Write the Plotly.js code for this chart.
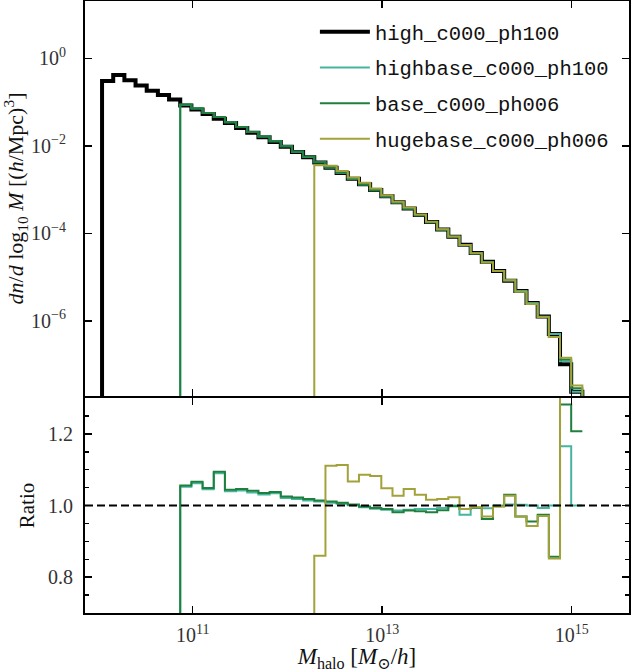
<!DOCTYPE html>
<html>
<head>
<meta charset="utf-8">
<script src="https://cdn.plot.ly/plotly-3.0.1.min.js"></script>
<style>html,body{margin:0;padding:0;background:#fff;}#chart{width:631px;height:672px;}</style>
</head>
<body>
<div id="chart"></div>
<script>
// Halo mass bin edges, M_halo [M_sun/h] (44 edges -> 43 bins)
const massBinEdges = [
  1.104e10, 1.448e10, 1.900e10, 2.492e10, 3.269e10, 4.289e10, 5.626e10, 7.381e10, 9.687e10,
  1.271e11, 1.667e11, 2.187e11, 2.869e11, 3.764e11, 4.938e11, 6.478e11, 8.499e11,
  1.115e12, 1.463e12, 1.919e12, 2.518e12, 3.303e12, 4.333e12, 5.684e12, 7.457e12, 9.784e12,
  1.284e13, 1.684e13, 2.209e13, 2.898e13, 3.802e13, 4.988e13, 6.544e13, 8.585e13,
  1.126e14, 1.477e14, 1.938e14, 2.543e14, 3.336e14, 4.376e14, 5.741e14, 7.532e14, 9.881e14,
  1.296e15
];

const seriesNames = ["high_c000_ph100", "highbase_c000_ph100", "base_c000_ph006", "hugebase_c000_ph006"];

// dn/dlog10 M [(h/Mpc)^3] per bin (0 = no haloes in that bin)
const high_c000_ph100 = [
  0.302, 0.417, 0.316, 0.240, 0.182, 0.145, 0.115,
  0.0832, 0.0676, 0.0537, 0.0417, 0.0331, 0.0257, 0.0200, 0.0158, 0.0123,
  0.00955, 0.00724, 0.00550, 0.00417, 0.00316, 0.00240, 0.00178, 0.00132,
  9.77e-4, 7.08e-4, 5.13e-4, 3.72e-4, 2.63e-4, 1.82e-4, 1.23e-4,
  8.32e-5, 5.50e-5, 3.55e-5, 2.24e-5, 1.38e-5,
  8.32e-6, 4.79e-6, 2.57e-6, 1.26e-6, 5.01e-7, 1.02e-7, 2.40e-8
];
const highbase_c000_ph100 = [
  0, 0, 0, 0, 0, 0, 0,
  0.0875, 0.0718, 0.0561, 0.0455, 0.0344, 0.0268, 0.0207, 0.0163, 0.0127,
  0.00975, 0.00737, 0.00558, 0.00422, 0.00319, 0.00241, 0.00178, 0.00131,
  9.68e-4, 7.00e-4, 5.06e-4, 3.68e-4, 2.60e-4, 1.80e-4, 1.22e-4,
  8.32e-5, 5.36e-5, 3.53e-5, 2.22e-5, 1.38e-5,
  8.35e-6, 4.80e-6, 2.57e-6, 1.25e-6, 5.01e-7, 1.19e-7, 2.40e-8
];
const base_c000_ph006 = [
  0, 0, 0, 0, 0, 0, 0,
  0.0879, 0.0721, 0.0563, 0.0456, 0.0346, 0.0269, 0.0208, 0.0164, 0.0128,
  0.00979, 0.00740, 0.00560, 0.00423, 0.00319, 0.00242, 0.00179, 0.00132,
  9.70e-4, 7.01e-4, 5.03e-4, 3.67e-4, 2.59e-4, 1.79e-4, 1.21e-4,
  8.30e-5, 5.45e-5, 3.53e-5, 2.15e-5, 1.38e-5,
  8.57e-6, 4.64e-6, 2.45e-6, 1.23e-6, 4.29e-7, 1.31e-7, 2.90e-8
];
const hugebase_c000_ph006 = [
  0, 0, 0, 0, 0, 0, 0,
  0, 0, 0, 0, 0, 0, 0, 0, 0,
  0, 0, 0, 0.00359, 0.00351, 0.00267, 0.00190, 0.00143,
  1.06e-3, 7.42e-4, 5.27e-4, 3.89e-4, 2.71e-4, 1.85e-4, 1.25e-4,
  8.51e-5, 5.45e-5, 3.53e-5, 2.17e-5, 1.38e-5,
  8.54e-6, 4.64e-6, 2.42e-6, 1.22e-6, 4.27e-7, 1.43e-7, 3.36e-8
];

// Ratio to high_c000_ph100 per bin
const ratio_highbase = [
  0, 0, 0, 0, 0, 0, 0,
  1.052, 1.062, 1.045, 1.090, 1.040, 1.042, 1.036, 1.031, 1.034,
  1.021, 1.018, 1.014, 1.011, 1.008, 1.005, 1.001, 0.995,
  0.991, 0.988, 0.986, 0.988, 0.990, 0.990, 0.993,
  1.000, 0.974, 0.994, 0.992, 1.000,
  1.003, 1.002, 1.000, 0.993, 1.000, 1.165, 1.000
];
const ratio_base = [
  0, 0, 0, 0, 0, 0, 0,
  1.056, 1.066, 1.049, 1.094, 1.044, 1.046, 1.041, 1.035, 1.038,
  1.025, 1.022, 1.018, 1.014, 1.011, 1.008, 1.003, 0.997,
  0.993, 0.990, 0.981, 0.986, 0.984, 0.981, 0.987,
  0.998, 0.990, 0.994, 0.962, 0.998,
  1.030, 0.969, 0.955, 0.974, 0.857, 1.282, 1.207
];
const ratio_hugebase = [
  0, 0, 0, 0, 0, 0, 0,
  0, 0, 0, 0, 0, 0, 0, 0, 0,
  0, 0, 0, 0.860, 1.111, 1.113, 1.067, 1.086,
  1.082, 1.048, 1.027, 1.046, 1.030, 1.016, 1.018,
  1.023, 0.990, 0.995, 0.969, 0.997,
  1.027, 0.969, 0.943, 0.971, 0.852, 1.400, 1.400
];

const xTickVals = [1e11, 1e13, 1e15];
const xTickText = ["10<sup>11</sup>", "10<sup>13</sup>", "10<sup>15</sup>"];
const yTickVals = [1e-6, 1e-4, 1e-2, 1];
const yTickText = ["10<sup>\u22126</sup>", "10<sup>\u22124</sup>", "10<sup>\u22122</sup>", "10<sup>0</sup>"];
const ratioTickVals = [0.8, 1.0, 1.2];
const ratioTickText = ["0.8", "1.0", "1.2"];

const colors = ["#000000", "#45b59d", "#1f7f3c", "#a3a23a"];
const widths = [4, 2, 2, 2];

// Histogram-style step outline (drops to the floor at both ends)
function histStep(vals) {
  const floor = 1e-12;
  let first = vals.findIndex(v => v > 0);
  let last = vals.length - 1;
  while (last >= 0 && !(vals[last] > 0)) last--;
  const x = [massBinEdges[first]], y = [floor];
  for (let k = first; k <= last; k++) { x.push(massBinEdges[k]); y.push(vals[k]); }
  x.push(massBinEdges[last + 1]); y.push(vals[last]);
  x.push(massBinEdges[last + 1]); y.push(floor);
  return {x, y};
}
// Plain steps across the bins
function ratioStep(vals) {
  const x = massBinEdges.slice();
  const y = vals.slice(); y.push(vals[vals.length - 1]);
  return {x, y};
}

const topSeries = [high_c000_ph100, highbase_c000_ph100, base_c000_ph006, hugebase_c000_ph006];
const traces = [];
topSeries.forEach((vals, i) => {
  const s = histStep(vals);
  traces.push({
    x: s.x, y: s.y, type: "scatter", mode: "lines", name: seriesNames[i],
    line: {shape: "hv", color: colors[i], width: widths[i]},
    xaxis: "x", yaxis: "y", legendgroup: "g" + i, showlegend: true, hoverinfo: "skip"
  });
});
const ratioSeries = [ratio_highbase, ratio_base, ratio_hugebase];
ratioSeries.forEach((vals, j) => {
  const s = ratioStep(vals);
  traces.push({
    x: s.x, y: s.y, type: "scatter", mode: "lines", name: seriesNames[j + 1],
    line: {shape: "hv", color: colors[j + 1], width: 2},
    xaxis: "x2", yaxis: "y2", legendgroup: "g" + (j + 1), showlegend: false, hoverinfo: "skip"
  });
});

const serif = "Liberation Serif, DejaVu Serif, serif";
const axisCommon = {
  showline: true, linecolor: "#000", linewidth: 2, mirror: "allticks",
  ticks: "inside", ticklen: 7, tickwidth: 1.5, tickcolor: "#000",
  showgrid: false, zeroline: false,
  tickfont: {family: serif, size: 20, color: "#333"}
};
const xRange = [9.863, 15.605];

const layout = {
  width: 631, height: 672,
  margin: {l: 85, r: 2, t: 1, b: 59},
  paper_bgcolor: "#fff", plot_bgcolor: "#fff",
  showlegend: true,
  legend: {
    x: 0.4226, y: 0.982, xanchor: "left", yanchor: "top",
    bgcolor: "rgba(0,0,0,0)", borderwidth: 0, itemwidth: 50,
    font: {family: "Liberation Mono, DejaVu Sans Mono, monospace", size: 20.5, color: "#111"},
    tracegroupgap: 6
  },
  xaxis: Object.assign({}, axisCommon, {
    type: "log", range: xRange, domain: [0, 1], anchor: "y",
    tickvals: xTickVals, ticktext: xTickText, showticklabels: false
  }),
  yaxis: Object.assign({}, axisCommon, {
    type: "log", range: [-7.716, 1.31], domain: [0.3546, 1], anchor: "x",
    tickvals: yTickVals, ticktext: yTickText, ticklabelstandoff: 13,
    title: {text: "<i>dn</i>/<i>d</i> log<sub>10</sub> <i>M</i> [(<i>h</i>/Mpc)<sup>3</sup>]",
            font: {family: serif, size: 22, color: "#111"}, standoff: 6}
  }),
  xaxis2: Object.assign({}, axisCommon, {
    type: "log", range: xRange, domain: [0, 1], anchor: "y2",
    tickvals: xTickVals, ticktext: xTickText, ticklabelstandoff: 3,
    title: {text: "<i>M</i><sub>halo</sub> [<i>M</i><sub>\u2299</sub>/<i>h</i>]",
            font: {family: serif, size: 23, color: "#111"}, standoff: 2}
  }),
  yaxis2: Object.assign({}, axisCommon, {
    range: [0.7, 1.3], domain: [0, 0.3513], anchor: "x2",
    tickvals: ratioTickVals, ticktext: ratioTickText, ticklabelstandoff: 6,
    minor: {dtick: 0.05, tick0: 0.7, ticks: "inside", ticklen: 4, tickwidth: 1.5, tickcolor: "#000", showgrid: false},
    title: {text: "Ratio", font: {family: serif, size: 21, color: "#111"}, standoff: 8}
  }),
  shapes: [{
    type: "line", xref: "x2 domain", yref: "y2", x0: 0, x1: 1, y0: 1, y1: 1,
    line: {color: "#000", width: 2, dash: "8px,4px"}, layer: "above"
  }]
};

Plotly.newPlot("chart", traces, layout, {staticPlot: true, displayModeBar: false});
</script>
</body>
</html>
